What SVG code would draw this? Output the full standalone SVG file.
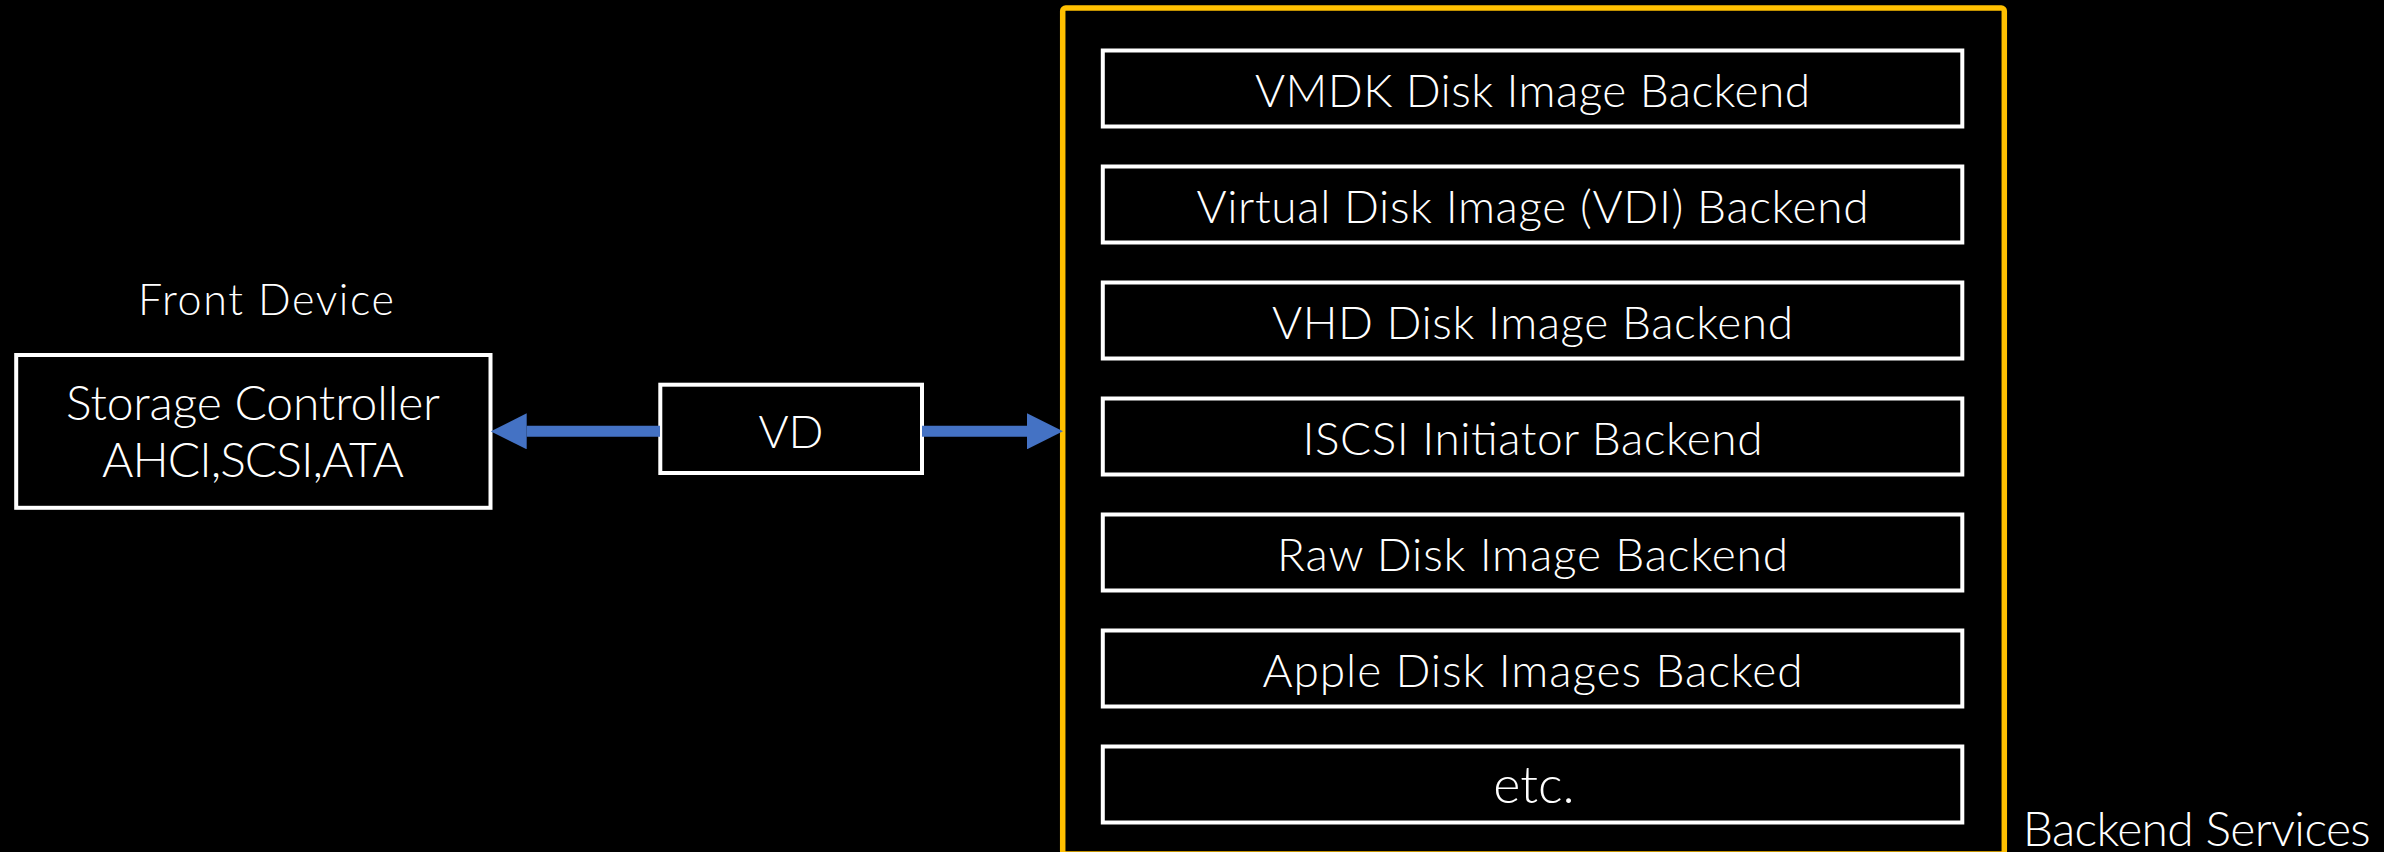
<svg xmlns="http://www.w3.org/2000/svg" width="2384" height="852" viewBox="0 0 2384 852">
<style>
.bg{fill:#000}
.box{fill:#000;stroke:#FFFFFF;stroke-width:4}
.grp{fill:none;stroke:#FFC000;stroke-width:5.5}
.t{font-family:Lato,"Open Sans","Noto Sans","DejaVu Sans",sans-serif;font-weight:300;fill:#FFFFFF;text-anchor:middle}
.bt{font-size:46px}
.conn{stroke:#4472C4;stroke-width:11;fill:none}
</style>
<defs>
<marker id="ah" markerUnits="userSpaceOnUse" markerWidth="36" markerHeight="36" refX="0" refY="18" orient="auto">
<path d="M0,0 L36,18 L0,36 Z" fill="#4472C4"/>
</marker>
</defs>
<rect class="bg" x="0" y="0" width="2384" height="852"/>

<g id="backend-services">
<rect class="grp" x="1062.7" y="8" width="941.6" height="846" rx="3"/>
<text class="t" x="2196.7" y="846" font-size="48" textLength="348">Backend Services</text>
</g>

<g id="front-device">
<text class="t" x="266" y="315" font-size="43" textLength="256">Front Device</text>
<rect class="box" x="16.2" y="355" width="474.3" height="152.8"/>
<text class="t" x="253" y="420" font-size="48" textLength="374">Storage Controller</text>
<text class="t" x="253" y="476.7" font-size="48" textLength="302">AHCI,SCSI,ATA</text>
</g>

<g id="vd">
<rect class="box" x="660.3" y="384.7" width="261.7" height="88.3"/>
<text class="t" x="791" y="447.7" font-size="46">VD</text>
</g>

<g id="b1"><rect class="box" x="1102.8" y="50.5" width="859.5" height="76"/>
<text class="t bt" x="1532.5" y="107.3" textLength="555">VMDK Disk Image Backend</text></g>
<g id="b2"><rect class="box" x="1102.8" y="166.5" width="859.5" height="76"/>
<text class="t bt" x="1532.5" y="223.3" textLength="672">Virtual Disk Image (VDI) Backend</text></g>
<g id="b3"><rect class="box" x="1102.8" y="282.5" width="859.5" height="76"/>
<text class="t bt" x="1532.5" y="339.3" textLength="521">VHD Disk Image Backend</text></g>
<g id="b4"><rect class="box" x="1102.8" y="398.5" width="859.5" height="76"/>
<text class="t bt" x="1532.5" y="455.3" textLength="460">ISCSI Initiator Backend</text></g>
<g id="b5"><rect class="box" x="1102.8" y="514.5" width="859.5" height="76"/>
<text class="t bt" x="1532.5" y="571.3" textLength="511">Raw Disk Image Backend</text></g>
<g id="b6"><rect class="box" x="1102.8" y="630.5" width="859.5" height="76"/>
<text class="t bt" x="1532.5" y="687.3" textLength="540">Apple Disk Images Backed</text></g>
<g id="b7"><rect class="box" x="1102.8" y="746.5" width="859.5" height="76"/>
<text class="t" x="1534" y="803.3" font-size="52">etc.</text></g>

<g id="connectors">
<line class="conn" x1="660" y1="431.3" x2="526.7" y2="431.3" marker-end="url(#ah)"/>
<line class="conn" x1="922" y1="431.3" x2="1027" y2="431.3" marker-end="url(#ah)"/>
</g>
</svg>
